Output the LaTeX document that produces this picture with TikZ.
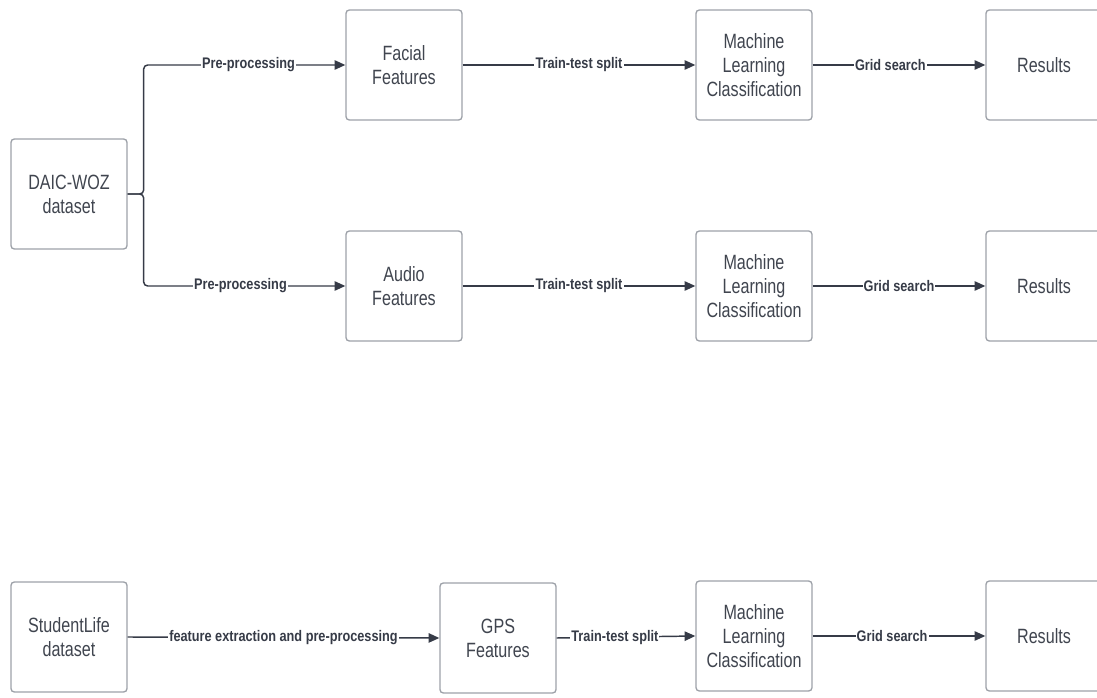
\documentclass[tikz,border=0pt]{standalone}
\usepackage{fontspec}
\setmainfont{Liberation Sans}
\newfontfamily\boxfont[FakeStretch=0.78]{Liberation Sans}
\newfontfamily\lblfont[FakeStretch=0.83]{Liberation Sans}
\usetikzlibrary{arrows.meta}
\definecolor{inkline}{HTML}{363B47}
\definecolor{boxline}{HTML}{9EA2A9}
\definecolor{inktext}{HTML}{40454F}

\begin{document}
\begin{tikzpicture}[x=0.75pt, y=-0.75pt,
	stage/.style={draw=boxline, line width=1pt, rounded corners=2.5pt, fill=white,
		minimum width=87pt, minimum height=82.5pt, align=center, text=inktext,
		font=\boxfont\fontsize{15.5}{18}\selectfont},
	conn/.style={draw=inkline, line width=1.1pt, -{Triangle[length=8pt, width=7pt]}},
	lbl/.style={fill=white, inner sep=0.8pt, text=inkline,
		font=\lblfont\bfseries\fontsize{11.5}{13}\selectfont}]
\useasboundingbox (0,0) rectangle (1097,698);

% datasets
	\node[stage] (daic) at (69,194) {DAIC-WOZ\\dataset};
	\node[stage] (student) at (69,637) {StudentLife\\dataset};

% features
	\node[stage] (facial) at (404,65) {Facial\\Features};
	\node[stage] (audio) at (404,286) {Audio\\Features};
	\node[stage] (gps) at (498,638) {GPS\\Features};

% classification
	\node[stage] (mlA) at (754,65) {Machine\\Learning\\Classification};
	\node[stage] (mlB) at (754,286) {Machine\\Learning\\Classification};
	\node[stage] (mlC) at (754,636) {Machine\\Learning\\Classification};

% results
	\node[stage] (resA) at (1044,65) {Results};
	\node[stage] (resB) at (1044,286) {Results};
	\node[stage] (resC) at (1044,636) {Results};

% branch out of DAIC-WOZ
\draw[conn, rounded corners=3pt] (daic.east) -- ++(16,0) |- (facial.west)
	node[lbl, pos=0.76] {Pre-processing};
\draw[conn, rounded corners=3pt] (daic.east) -- ++(16,0) |- (audio.west)
	node[lbl, pos=0.74] {Pre-processing};

%StudentLife row
\draw[conn] (student.east) -- (gps.west) node[lbl, pos=0.5] {feature extraction and pre-processing};

% train-test split
\draw[conn] (facial.east) -- (mlA.west) node[lbl, pos=0.5] {Train-test split};
\draw[conn] (audio.east) -- (mlB.west) node[lbl, pos=0.5] {Train-test split};
\draw[conn] (gps.east) -- (mlC.west) node[lbl, pos=0.42] {Train-test split};

% grid search
\draw[conn] (mlA.east) -- (resA.west) node[lbl, pos=0.45] {Grid search};
\draw[conn] (mlB.east) -- (resB.west) node[lbl, pos=0.5] {Grid search};
\draw[conn] (mlC.east) -- (resC.west) node[lbl, pos=0.46] {Grid search};

\end{tikzpicture}
\end{document}
